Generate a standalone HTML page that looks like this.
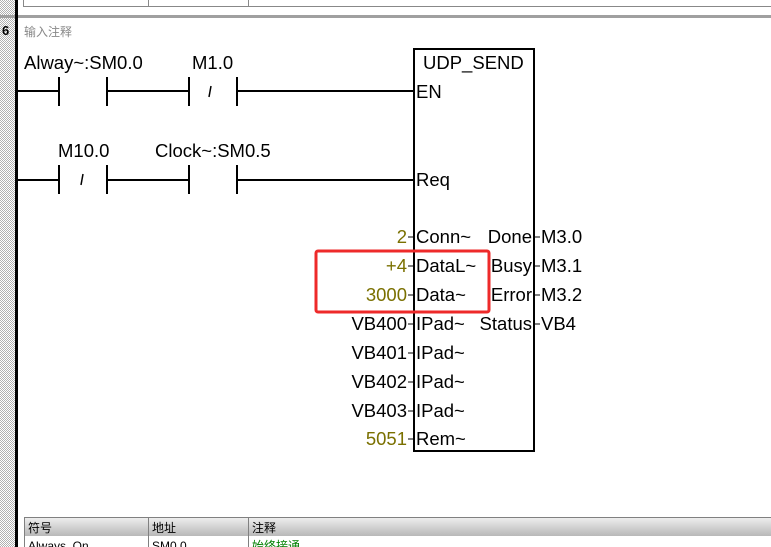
<!DOCTYPE html>
<html><head><meta charset="utf-8"><style>
html,body{margin:0;padding:0;background:#fff;width:771px;height:547px;overflow:hidden;font-family:"Liberation Sans","Noto Sans CJK SC",sans-serif;}
</style></head><body>
<svg width="771" height="547" xmlns="http://www.w3.org/2000/svg" style="position:absolute;left:0;top:0">
<defs>
<pattern id="dots" width="2" height="2" patternUnits="userSpaceOnUse"><rect width="2" height="2" fill="#fff"/><rect width="1" height="1" fill="#b0b0b0"/><rect x="1" y="1" width="1" height="1" fill="#b0b0b0"/></pattern>
<linearGradient id="hdr" x1="0" y1="0" x2="0" y2="1"><stop offset="0" stop-color="#f0f0f0"/><stop offset="1" stop-color="#b8b8b8"/></linearGradient>
</defs>
<rect x="0" y="0" width="15" height="547" fill="url(#dots)"/>
<rect x="15" y="0" width="3" height="547" fill="#000"/>
<line x1="23.5" y1="0" x2="23.5" y2="6" stroke="#888"/>
<line x1="148.5" y1="0" x2="148.5" y2="6" stroke="#888"/>
<line x1="248.5" y1="0" x2="248.5" y2="6" stroke="#888"/>
<line x1="23" y1="6.5" x2="771" y2="6.5" stroke="#888"/>
<rect x="0" y="15" width="771" height="3" fill="#a0a0a0"/>
<rect x="15" y="15" width="3" height="3" fill="#000"/>
<text x="2" y="35" font-size="13" font-weight="bold" fill="#000">6</text>
<text x="24" y="36" font-size="12" fill="#888">输入注释</text>

<g stroke="#000" stroke-width="2" fill="none">
<line x1="17" y1="91" x2="59" y2="91"/>
<line x1="59" y1="77" x2="59" y2="106"/>
<line x1="107" y1="77" x2="107" y2="106"/>
<line x1="107" y1="91" x2="189" y2="91"/>
<line x1="189" y1="77" x2="189" y2="106"/>
<line x1="237" y1="77" x2="237" y2="106"/>
<line x1="237" y1="91" x2="414" y2="91"/>
<line x1="17" y1="180" x2="59" y2="180"/>
<line x1="59" y1="165" x2="59" y2="194"/>
<line x1="107" y1="165" x2="107" y2="194"/>
<line x1="107" y1="180" x2="189" y2="180"/>
<line x1="189" y1="165" x2="189" y2="194"/>
<line x1="237" y1="165" x2="237" y2="194"/>
<line x1="237" y1="180" x2="414" y2="180"/>
<rect x="414" y="49" width="120" height="402"/>
</g>
<g stroke="#000" stroke-width="1.5">
<line x1="211" y1="86" x2="209" y2="97"/>
<line x1="83" y1="174" x2="81" y2="185"/>
</g>
<g stroke="#000" stroke-width="1">
<line x1="408" y1="237" x2="414" y2="237"/><line x1="408" y1="266" x2="414" y2="266"/>
<line x1="408" y1="295" x2="414" y2="295"/><line x1="408" y1="324" x2="414" y2="324"/>
<line x1="408" y1="353" x2="414" y2="353"/><line x1="408" y1="382" x2="414" y2="382"/>
<line x1="408" y1="411" x2="414" y2="411"/><line x1="408" y1="439" x2="414" y2="439"/>
<line x1="534" y1="237" x2="540" y2="237"/><line x1="534" y1="266" x2="540" y2="266"/>
<line x1="534" y1="295" x2="540" y2="295"/><line x1="534" y1="324" x2="540" y2="324"/>
</g>
<g font-size="18.5" fill="#000">
<text x="24" y="69">Alway~:SM0.0</text>
<text x="192" y="69">M1.0</text>
<text x="58" y="157">M10.0</text>
<text x="155" y="157">Clock~:SM0.5</text>
<text x="423" y="69">UDP_SEND</text>
<text x="416" y="98">EN</text>
<text x="416" y="186">Req</text>
<text x="416" y="243">Conn~</text>
<text x="416" y="272">DataL~</text>
<text x="416" y="301">Data~</text>
<text x="416" y="330">IPad~</text>
<text x="416" y="359">IPad~</text>
<text x="416" y="388">IPad~</text>
<text x="416" y="417">IPad~</text>
<text x="416" y="445">Rem~</text>
<g text-anchor="end">
<text x="532" y="243">Done</text>
<text x="532" y="272">Busy</text>
<text x="532" y="301">Error</text>
<text x="532" y="330">Status</text>
<text x="407" y="330">VB400</text>
<text x="407" y="359">VB401</text>
<text x="407" y="388">VB402</text>
<text x="407" y="417">VB403</text>
</g>
<g text-anchor="end" fill="#7a7000">
<text x="407" y="243">2</text>
<text x="407" y="272">+4</text>
<text x="407" y="301">3000</text>
<text x="407" y="445">5051</text>
</g>
<text x="541" y="243">M3.0</text>
<text x="541" y="272">M3.1</text>
<text x="541" y="301">M3.2</text>
<text x="541" y="330">VB4</text>
</g>
<rect x="316" y="251" width="173" height="61" rx="2" fill="none" stroke="#ee2a2a" stroke-width="3"/>
<rect x="24" y="517" width="747" height="19" fill="url(#hdr)"/>
<line x1="24" y1="517.5" x2="771" y2="517.5" stroke="#808080"/>
<line x1="24.5" y1="517" x2="24.5" y2="547" stroke="#808080"/>
<line x1="148.5" y1="517" x2="148.5" y2="547" stroke="#808080"/>
<line x1="248.5" y1="517" x2="248.5" y2="547" stroke="#808080"/>
<g font-size="12">
<text x="28" y="532">符号</text>
<text x="152" y="532">地址</text>
<text x="252" y="532">注释</text>
<text x="28" y="550">Always_On</text>
<text x="152" y="550">SM0.0</text>
<text x="252" y="550" fill="#008000">始终接通</text>
</g>
</svg>
</body></html>
